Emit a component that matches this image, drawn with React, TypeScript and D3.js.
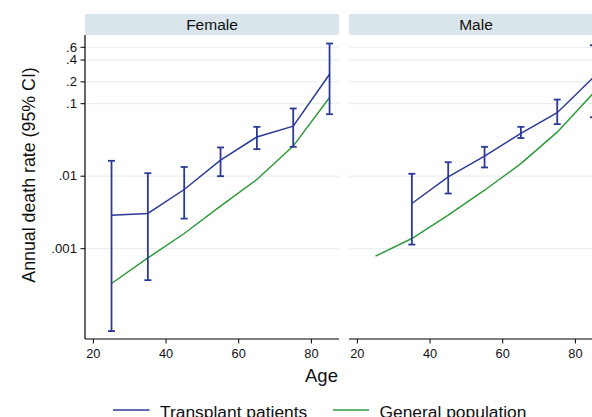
import React from "react";
import * as d3 from "d3";

// Age groups (midpoints)
const ages = [25, 35, 45, 55, 65, 75, 85];
const maleTransplantAges = [35, 45, 55, 65, 75, 85];

// Female: transplant patients (rate, 95% CI) and general population
const femaleTransplant = [0.0029, 0.00306, 0.00655, 0.0166, 0.0348, 0.049, 0.255];
const femaleLower = [0.000073, 0.000368, 0.0026, 0.01, 0.0236, 0.0254, 0.0716];
const femaleUpper = [0.0163, 0.011, 0.0134, 0.0249, 0.0479, 0.0859, 0.676];
const femaleGeneral = [0.000331, 0.000746, 0.00162, 0.00386, 0.00901, 0.026, 0.122];

// Male: transplant patients (rate, 95% CI) and general population
const maleTransplant = [0.0042, 0.0098, 0.0189, 0.039, 0.075, 0.232];
const maleLower = [0.00114, 0.00577, 0.0132, 0.0336, 0.0522, 0.065];
const maleUpper = [0.0108, 0.0156, 0.0254, 0.0479, 0.114, 0.64];
const maleGeneral = [0.000789, 0.00138, 0.0029, 0.0064, 0.0149, 0.0405, 0.141];

const yTicks = [0.001, 0.01, 0.1, 0.2, 0.4, 0.6];
const yTickLabels = [".001", ".01", ".1", ".2", ".4", ".6"];
const xTicks = [20, 40, 60, 80];

const panelNames = ["Female", "Male"];
const legendLabels = ["Transplant patients", "General population"];

const BLUE = "#2c3a97";
const GREEN = "#2f9a3c";
const GRID = "#e8f0f1";
const STRIP = "#d9e5eb";
const FONT = "'Liberation Sans', Arial, Helvetica, sans-serif";

const W = 592;
const H = 417;
const plotTop = 35;
const plotBottom = 339;
const panelWidth = 254;
const panelLefts = [85, 349];

const y = d3.scaleLog().domain([5.68e-5, 0.886]).range([plotBottom, plotTop]);

type PanelData = {
  name: string;
  tAges: number[];
  t: number[];
  lo: number[];
  hi: number[];
  g: number[];
};

const panels: PanelData[] = [
  { name: panelNames[0], tAges: ages, t: femaleTransplant, lo: femaleLower, hi: femaleUpper, g: femaleGeneral },
  { name: panelNames[1], tAges: maleTransplantAges, t: maleTransplant, lo: maleLower, hi: maleUpper, g: maleGeneral },
];

function Panel({ p, left, showYAxis }: { p: PanelData; left: number; showYAxis: boolean }) {
  const x = d3.scaleLinear().domain([17.7, 87.6]).range([left, left + panelWidth]);
  const line = d3
    .line<[number, number]>()
    .x((d) => x(d[0]))
    .y((d) => y(d[1]));
  const tPts = p.tAges.map((a, i) => [a, p.t[i]] as [number, number]);
  const gPts = ages.map((a, i) => [a, p.g[i]] as [number, number]);
  const cap = 3.5;
  return (
    <g>
      {/* strip */}
      <rect x={left} y={14} width={panelWidth} height={21} fill={STRIP} />
      <text
        x={left + panelWidth / 2}
        y={30}
        textAnchor="middle"
        fontSize={15.5}
        fontFamily={FONT}
        fill="#111"
      >
        {p.name}
      </text>
      {/* gridlines */}
      {yTicks.map((t) => (
        <line key={t} x1={left} x2={left + panelWidth} y1={y(t)} y2={y(t)} stroke={GRID} strokeWidth={1.2} />
      ))}
      {/* general population */}
      <path d={line(gPts) ?? ""} fill="none" stroke={GREEN} strokeWidth={1.5} />
      {/* transplant patients */}
      <path d={line(tPts) ?? ""} fill="none" stroke={BLUE} strokeWidth={1.5} />
      {p.tAges.map((a, i) => (
        <g key={a} stroke={BLUE} strokeWidth={1.8}>
          <line x1={x(a)} x2={x(a)} y1={y(p.lo[i])} y2={y(p.hi[i])} />
          <line x1={x(a) - cap} x2={x(a) + cap} y1={y(p.lo[i])} y2={y(p.lo[i])} />
          <line x1={x(a) - cap} x2={x(a) + cap} y1={y(p.hi[i])} y2={y(p.hi[i])} />
        </g>
      ))}
      {/* x axis */}
      <line x1={left} x2={left + panelWidth} y1={plotBottom} y2={plotBottom} stroke="#000" strokeWidth={1.2} />
      {xTicks.map((t) => (
        <g key={t}>
          <line x1={x(t)} x2={x(t)} y1={plotBottom} y2={plotBottom + 4.5} stroke="#000" strokeWidth={1} />
          <text x={x(t)} y={357.5} textAnchor="middle" fontSize={12.8} fontFamily={FONT} fill="#111">
            {t}
          </text>
        </g>
      ))}
      {showYAxis && (
        <g>
          <line x1={left} x2={left} y1={plotTop} y2={plotBottom} stroke="#000" strokeWidth={1.2} />
          {yTicks.map((t, i) => (
            <g key={t}>
              <line x1={left - 4.5} x2={left} y1={y(t)} y2={y(t)} stroke="#000" strokeWidth={1} />
              <text
                x={left - 8}
                y={y(t) + 4.3}
                textAnchor="end"
                fontSize={13.2}
                fontFamily={FONT}
                fill="#111"
              >
                {yTickLabels[i]}
              </text>
            </g>
          ))}
        </g>
      )}
    </g>
  );
}

export default function App() {
  return (
    <svg
      width={W}
      height={H}
      style={{ position: "absolute", left: 0, top: 0, background: "#fff" }}
    >
      <rect width={W} height={H} fill="#fff" />
      {panels.map((p, i) => (
        <Panel key={p.name} p={p} left={panelLefts[i]} showYAxis={i === 0} />
      ))}
      {/* axis titles */}
      <text
        transform="translate(35,175) rotate(-90)"
        textAnchor="middle"
        fontSize={17.8}
        fontFamily={FONT}
        fill="#111"
      >
        Annual death rate (95% CI)
      </text>
      <text x={321.5} y={381.5} textAnchor="middle" fontSize={18.5} fontFamily={FONT} fill="#111">
        Age
      </text>
      {/* legend */}
      <line x1={113} x2={149.5} y1={410} y2={410} stroke={BLUE} strokeWidth={1.5} />
      <text x={160} y={417.8} fontSize={17.4} fontFamily={FONT} fill="#111">
        {legendLabels[0]}
      </text>
      <line x1={333} x2={369} y1={410} y2={410} stroke={GREEN} strokeWidth={1.5} />
      <text x={379.5} y={417.8} fontSize={17.4} fontFamily={FONT} fill="#111">
        {legendLabels[1]}
      </text>
    </svg>
  );
}
